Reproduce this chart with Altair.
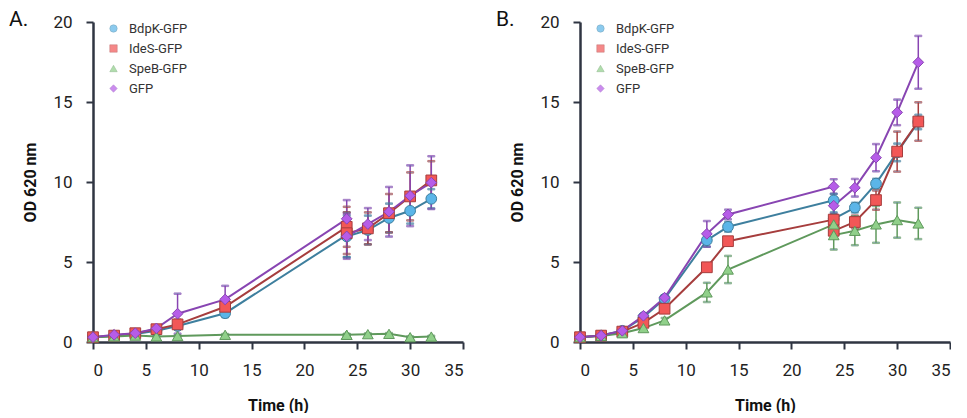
import altair as alt
import pandas as pd

series = ["BdpK-GFP", "IdeS-GFP", "SpeB-GFP", "GFP"]
fill_colors = ["#5BB5E8", "#F25757", "#90D08A", "#B65CE8"]
line_colors = ["#3E7F9E", "#A63D3D", "#5F995C", "#8845B2"]
shapes = ["circle", "square", "triangle-up", "diamond"]

# Panel A
time_a = [0, 2, 4, 6, 8, 12.5, 24, 24, 26, 28, 30, 32]
bdpk_a = [0.3, 0.4, 0.5, 0.7, 1.0, 1.8, 6.7, 6.6, 7.0, 7.75, 8.2, 8.95]
bdpk_a_err = [0.05, 0.05, 0.05, 0.1, 0.15, 0.25, 1.4, 1.3, 0.9, 0.9, 0.8, 0.6]
ides_a = [0.3, 0.4, 0.55, 0.8, 1.1, 2.2, 7.2, 6.8, 7.1, 8.05, 9.1, 10.1]
ides_a_err = [0.05, 0.05, 0.05, 0.1, 0.3, 0.3, 1.25, 1.3, 1.0, 1.2, 1.5, 1.2]
speb_a = [0.3, 0.35, 0.4, 0.35, 0.37, 0.45, 0.45, 0.45, 0.49, 0.51, 0.3, 0.34]
speb_a_err = [0.05, 0.05, 0.05, 0.05, 0.05, 0.05, 0.05, 0.05, 0.05, 0.05, 0.05, 0.05]
gfp_a = [0.3, 0.45, 0.55, 0.85, 1.77, 2.66, 7.7, 6.6, 7.37, 8.14, 9.14, 9.96]
gfp_a_err = [0.05, 0.05, 0.1, 0.15, 1.25, 0.85, 1.17, 1.4, 1.0, 1.55, 1.9, 1.65]

# Panel B
time_b = [0, 2, 4, 6, 8, 12, 14, 24, 24, 26, 28, 30, 32]
bdpk_b = [0.3, 0.4, 0.7, 1.55, 2.7, 6.36, 7.2, 8.85, 7.7, 8.4, 9.9, 11.85, 13.75]
bdpk_b_err = [0.05, 0.05, 0.05, 0.1, 0.15, 0.4, 0.3, 0.4, 0.4, 0.3, 0.3, 0.55, 0.45]
ides_b = [0.3, 0.4, 0.65, 1.2, 2.08, 4.67, 6.3, 7.65, 6.95, 7.5, 8.87, 11.9, 13.78]
ides_b_err = [0.05, 0.05, 0.05, 0.1, 0.1, 0.15, 0.2, 0.3, 0.3, 0.4, 0.6, 1.25, 1.2]
speb_b = [0.3, 0.38, 0.55, 0.87, 1.35, 3.1, 4.53, 7.35, 6.68, 6.95, 7.35, 7.62, 7.41]
speb_b_err = [0.05, 0.05, 0.05, 0.1, 0.15, 0.6, 0.85, 0.4, 0.9, 0.9, 1.15, 1.1, 0.98]
gfp_b = [0.3, 0.4, 0.7, 1.64, 2.77, 6.76, 7.97, 9.72, 8.52, 9.64, 11.52, 14.35, 17.48]
gfp_b_err = [0.05, 0.05, 0.05, 0.1, 0.15, 0.8, 0.3, 0.45, 0.5, 0.55, 0.85, 0.8, 1.65]

x_ticks = [0, 5, 10, 15, 20, 25, 30, 35]
y_ticks = [0, 5, 10, 15, 20]


def make_df(times, vals, errs):
    rows = []
    for s, v, e in zip(series, vals, errs):
        for i, (t, m, d) in enumerate(zip(times, v, e)):
            rows.append(dict(series=s, t=t, od=m, lo=m - d, hi=m + d, idx=i))
    return pd.DataFrame(rows)


df_a = make_df(time_a, [bdpk_a, ides_a, speb_a, gfp_a],
               [bdpk_a_err, ides_a_err, speb_a_err, gfp_a_err])
df_b = make_df(time_b, [bdpk_b, ides_b, speb_b, gfp_b],
               [bdpk_b_err, ides_b_err, speb_b_err, gfp_b_err])

W, H = 370, 320


def panel(df, letter):
    base = alt.Chart(df)
    x = alt.X("t:Q", scale=alt.Scale(domain=[0, 35], nice=False),
              axis=alt.Axis(values=x_ticks, title="Time (h)"))
    y = alt.Y("od:Q", scale=alt.Scale(domain=[0, 20], nice=False),
              axis=alt.Axis(values=y_ticks, title="OD 620 nm"))
    stroke = alt.Stroke("series:N", scale=alt.Scale(domain=series, range=line_colors),
                        sort=series)
    errs = base.mark_rule(strokeWidth=1.5).encode(
        x=x, y=alt.Y("lo:Q", scale=alt.Scale(domain=[0, 20], nice=False), title="OD 620 nm"),
        y2="hi:Q", stroke=stroke)
    cap_lo = base.mark_tick(orient="horizontal", size=7, thickness=1.5).encode(
        x=x, y=alt.Y("lo:Q", title="OD 620 nm"), stroke=stroke)
    cap_hi = base.mark_tick(orient="horizontal", size=7, thickness=1.5).encode(
        x=x, y=alt.Y("hi:Q", title="OD 620 nm"), stroke=stroke)
    lines = base.mark_line(strokeWidth=2).encode(
        x=x, y=y, stroke=stroke, detail="series:N", order="idx:Q")
    pts = base.mark_point(filled=True, opacity=1, strokeWidth=1, size=115).encode(
        x=x, y=y,
        fill=alt.Fill("series:N", scale=alt.Scale(domain=series, range=fill_colors),
                      sort=series,
                      legend=alt.Legend(title=None, orient="none", legendX=14, legendY=0)),
        shape=alt.Shape("series:N", scale=alt.Scale(domain=series, range=shapes),
                        sort=series),
        stroke=stroke,
    )
    lab = alt.Chart(pd.DataFrame({"label": [letter]})).mark_text(
        align="left", baseline="middle", fontSize=21, font="Roboto", color="#111"
    ).encode(text="label:N", x=alt.value(-84), y=alt.value(-2))
    return alt.layer(lines, errs, cap_lo, cap_hi, pts, lab).properties(width=W, height=H)


chart = alt.hconcat(panel(df_a, "A."), panel(df_b, "B."), spacing=32).properties(
    padding={"left": 1, "top": 1, "right": 0, "bottom": 0}
).resolve_scale(
    fill="independent", shape="independent", stroke="independent"
).configure_view(stroke=None).configure_axis(
    grid=False, domainColor="#2F3542", domainWidth=2.5, tickColor="#2F3542",
    tickWidth=2, tickSize=7, labelFont="Roboto", labelFontSize=17, labelColor="#222",
    labelPadding=12, titleFont="Roboto", titleFontWeight="bold", titleFontSize=16,
    titleColor="#111", titlePadding=14
).configure_axisY(labelPadding=14).configure_axisX(labelPadding=13, titlePadding=19).configure_legend(
    labelFont="Roboto", labelFontSize=13, labelColor="#333", labelOffset=9,
    symbolSize=55, rowPadding=6, symbolStrokeWidth=0.5
)

chart.save("out.html", embed_options={"renderer": "svg", "actions": False})
